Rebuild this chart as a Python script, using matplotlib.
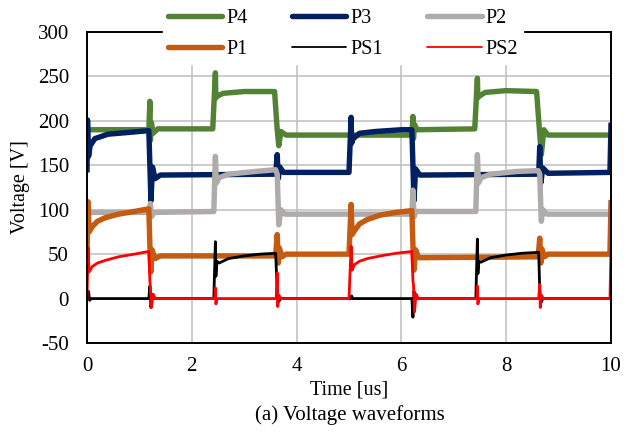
"""
Voltage waveforms of P1-P4 and PS1/PS2 over two switching periods.
"""
import matplotlib
matplotlib.use("Agg")
import matplotlib.pyplot as plt
import numpy as np

plt.rcParams["font.family"] = ["Liberation Serif", "DejaVu Serif"]
plt.rcParams["axes.unicode_minus"] = False

# values (time in us, voltage in V)
P4_t = [0, 1.18, 1.2, 1.21, 1.23, 1.26, 1.35, 2.40, 2.45, 2.46, 2.49, 2.6, 3.0, 3.58,
        3.63, 3.66, 3.70, 3.8, 6.20, 6.22, 6.23, 6.25, 6.3, 7.40, 7.45, 7.46, 7.49, 7.6,
        8.0, 8.58, 8.64, 8.67, 8.72, 8.8, 10]
P4_v = [190, 190, 222, 178, 198, 186, 191, 191, 254, 226, 228, 231, 233, 233,
        190, 172, 188, 184, 184, 205, 180, 196, 190, 191, 248, 226, 228, 232,
        234, 233, 185, 162, 190, 184, 184]

P3_t = [0, 0.01, 0.03, 0.06, 0.15, 0.4, 0.8, 1.18, 1.2, 1.22, 1.25, 1.3, 1.4, 3.60,
        3.63, 3.65, 3.68, 3.75, 5.0, 5.04, 5.05, 5.08, 5.2, 5.5, 6.0, 6.2, 6.22, 6.24,
        6.27, 6.35, 8.62, 8.64, 8.66, 8.7, 8.8, 9.98, 10.0]
P3_v = [145, 201, 160, 172, 180, 185, 187, 189, 150, 110, 148, 135, 139, 140,
        162, 135, 148, 142, 142, 204, 175, 180, 186, 188, 190, 190, 150, 110,
        146, 139, 140, 171, 130, 147, 141, 142, 195]

P2_t = [0, 0.02, 0.05, 0.1, 1.19, 1.21, 1.23, 1.28, 2.42, 2.45, 2.47, 2.52, 2.7, 3.2,
        3.6, 3.63, 3.66, 3.7, 3.78, 6.2, 6.22, 6.24, 6.28, 7.42, 7.45, 7.47, 7.52, 7.7,
        8.2, 8.61, 8.64, 8.67, 8.7, 8.78, 10]
P2_v = [95, 105, 96, 97, 97, 107, 92, 97, 98, 160, 130, 136, 140, 143,
        145, 140, 83, 100, 95, 95, 122, 92, 98, 98, 162, 130, 136, 140,
        143, 144, 140, 87, 100, 95, 95]

P1_t = [0, 0.02, 0.04, 0.1, 0.2, 0.35, 0.6, 0.9, 1.18, 1.2, 1.22, 1.24, 1.3, 1.4,
        3.6, 3.63, 3.65, 3.67, 3.72, 3.8, 5.0, 5.04, 5.06, 5.1, 5.2, 5.35, 5.6, 5.9,
        6.2, 6.22, 6.24, 6.27, 6.33, 8.61, 8.64, 8.66, 8.68, 8.73, 8.8, 9.98, 10.0]
P1_v = [50, 109, 75, 81, 87, 91, 95, 98, 101, 60, 30, 55, 45, 48,
        48, 72, 40, 57, 47, 50, 50, 106, 72, 76, 84, 89, 94, 97,
        99, 60, 32, 55, 46, 47, 68, 40, 56, 47, 50, 50, 108]

PS1_t = [0, 0.03, 0.05, 0.08, 1.18, 1.2, 1.22, 1.25, 1.3, 2.42, 2.45, 2.46, 2.48, 2.52,
         2.7, 3.0, 3.3, 3.6, 3.63, 3.65, 3.7, 5.03, 5.05, 5.07, 6.2, 6.22, 6.24, 6.27,
         7.42, 7.45, 7.46, 7.48, 7.52, 7.7, 8.0, 8.3, 8.62, 8.64, 8.66, 8.7, 10]
PS1_v = [0, 8, -2, 0, 0, 14, -10, 4, 0, 0, 64, 25, 42, 40,
         45, 48, 50, 51, 10, -4, 0, 0, 3, 0, 0, -21, 8, 0,
         0, 67, 28, 42, 41, 46, 49, 51, 52, 10, -5, 0, 0]

PS2_t = [0, 0.02, 0.04, 0.1, 0.2, 0.35, 0.6, 0.9, 1.18, 1.2, 1.21, 1.23, 1.26, 1.3,
         2.44, 2.45, 2.46, 2.48, 3.61, 3.63, 3.64, 3.66, 3.7, 5.0, 5.04, 5.06, 5.1, 5.2,
         5.35, 5.6, 5.9, 6.2, 6.22, 6.23, 6.25, 6.28, 6.32, 7.44, 7.45, 7.46, 7.48, 8.62,
         8.64, 8.65, 8.67, 8.71, 9.98, 10.0]
PS2_v = [0, 57, 30, 36, 40, 43, 47, 50, 53, 20, 12, -10, 5, 0,
         0, 12, -6, 0, 0, 29, -9, 4, 0, 0, 59, 32, 38, 42,
         45, 48, 51, 53, 20, 16, -15, 5, 0, 0, 14, -6, 0, 0,
         16, -10, 4, 0, 0, 55]

X_TICKS = [0, 2, 4, 6, 8, 10]
Y_TICKS = [-50, 0, 50, 100, 150, 200, 250, 300]

# name, times, values, colour, line width (drawn in this order)
SERIES = [
    ("P4", P4_t, P4_v, "#548235", 3.9),
    ("P3", P3_t, P3_v, "#002060", 3.9),
    ("P2", P2_t, P2_v, "#AFABAB", 3.9),
    ("P1", P1_t, P1_v, "#C55A11", 3.9),
    ("PS1", PS1_t, PS1_v, "#000000", 2.0),
    ("PS2", PS2_t, PS2_v, "#FF0000", 2.0),
]

fig = plt.figure(figsize=(6.33, 4.32), dpi=100)
ax = fig.add_axes([87 / 633, 1 - 343 / 432, 524 / 633, 311 / 432])

lines = {}
for name, t, v, color, lw in SERIES:
    (ln,) = ax.plot(t, v, color=color, lw=lw, label=name, solid_joinstyle="round")
    lines[name] = ln

ax.set_xlim(0, 10)
ax.set_ylim(-50, 300)
ax.set_xticks(X_TICKS)
ax.set_yticks(Y_TICKS)
ax.grid(True, color="#BFBFBF", lw=1.1)
ax.set_axisbelow(True)
ax.tick_params(axis="both", length=0, labelsize=15)
ax.tick_params(axis="y", pad=13)
ax.tick_params(axis="x", pad=10)
for sp in ax.spines.values():
    sp.set_linewidth(1.4)
    sp.set_color("black")

ax.set_xlabel("Time [us]", fontsize=14.5)
ax.xaxis.set_label_coords(0.5, -0.12)
ax.set_ylabel("Voltage [V]", fontsize=14.5)
ax.yaxis.set_label_coords(-0.108, 0.5)

# legend in rows: P4 P3 P2 / P1 PS1 PS2 (matplotlib fills columns first)
order = ["P4", "P1", "P3", "PS1", "P2", "PS2"]
leg = ax.legend(
    [lines[n] for n in order], order,
    ncol=3, loc="center", bbox_to_anchor=(0.542, 1 - 34 / 432),
    bbox_transform=fig.transFigure, frameon=True, framealpha=1,
    edgecolor="white", facecolor="white", fancybox=False,
    fontsize=14.5, handlelength=2.7, handletextpad=0.2,
    columnspacing=2.2, labelspacing=0.55, borderpad=0.25,
)
for lh, n in zip(leg.get_lines(), order):
    lh.set_linewidth(3.9 if n in ("P1", "P2", "P3", "P4") else 1.3)
    lh.set_solid_capstyle("round")

fig.text(350 / 633, 1 - 415 / 432, "(a) Voltage waveforms", ha="center",
         va="center", fontsize=15)

fig.savefig("out.png", dpi=100)
